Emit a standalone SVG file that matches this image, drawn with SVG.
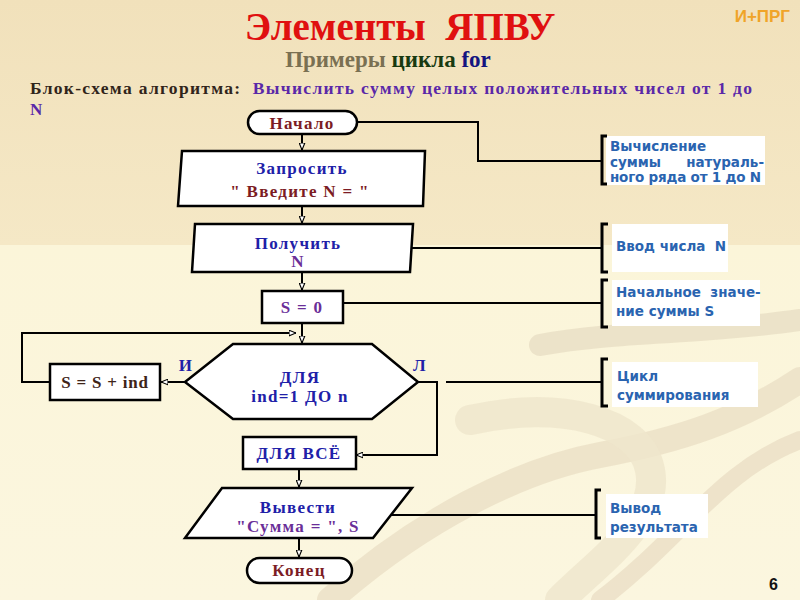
<svg xmlns="http://www.w3.org/2000/svg" width="800" height="600" viewBox="0 0 800 600">
<defs>
<linearGradient id="bgTop" x1="0" y1="0" x2="0" y2="1">
<stop offset="0" stop-color="#f1e1bb"/>
<stop offset="1" stop-color="#f5e8c6"/>
</linearGradient>
<linearGradient id="bgBot" x1="0" y1="0" x2="0" y2="1">
<stop offset="0" stop-color="#fbf5d9"/>
<stop offset="1" stop-color="#fbf6df"/>
</linearGradient>
<marker id="arr" viewBox="0 0 10 10" refX="10" refY="5" markerWidth="7" markerHeight="7" orient="auto" markerUnits="userSpaceOnUse">
<path d="M0,1 L10,5 L0,9 Z" fill="#fff" stroke="#000" stroke-width="1.6"/>
</marker>
<style>
.shape{fill:#fff;stroke:#000;stroke-width:2.5}
.conn{fill:none;stroke:#000;stroke-width:2}
.ann{fill:none;stroke:#000;stroke-width:2}
.brk{fill:none;stroke:#000;stroke-width:3}
.note{fill:#fff}
.s{font-family:"Liberation Serif","DejaVu Serif",serif;font-weight:bold}
.n{font-size:17px;letter-spacing:1.3px}
.t{font-family:"DejaVu Sans","Liberation Sans",sans-serif;font-weight:bold;font-size:13.5px;fill:#2a64b0;white-space:pre}
.blue{fill:#2020a8}
.purple{fill:#6a2e98}
.dred{fill:#7c1c24}
.brown{fill:#3e2418}
</style>
</defs>
<rect x="0" y="0" width="800" height="245" fill="url(#bgTop)"/>
<rect x="0" y="245" width="800" height="355" fill="url(#bgBot)"/>
<g id="swooshes" fill="none" stroke-linecap="round">
<path d="M330,600 C420,520 520,470 600,455 C680,440 740,420 800,380" stroke="#ebe0c6" stroke-width="26" opacity="0.8"/>
<path d="M540,345 C620,330 700,335 800,320" stroke="#e9dec4" stroke-width="22" opacity="0.8"/>
<path d="M470,420 C560,400 640,420 650,470 C660,520 600,560 560,600" stroke="#efe6cc" stroke-width="30" opacity="0.8"/>
<path d="M600,600 C680,540 720,470 800,440" stroke="#e8dcc2" stroke-width="18" opacity="0.7"/>
</g>

<text x="400" y="40" text-anchor="middle" class="s" font-size="39" fill="#e01010" style="white-space:pre">Элементы  ЯПВУ</text>
<text x="388" y="67" text-anchor="middle" class="s" font-size="23"><tspan fill="#7a7052">Примеры </tspan><tspan fill="#183a10">цикла </tspan><tspan fill="#141480">for</tspan></text>
<text x="790" y="22" text-anchor="end" font-family="Liberation Sans,Arial,sans-serif" font-weight="bold" font-size="17" fill="#f0a428">И+ПРГ</text>
<text x="30" y="94" class="s" font-size="17.5" textLength="722" lengthAdjust="spacing" style="white-space:pre"><tspan fill="#30241a">Блок-схема алгоритма:  </tspan><tspan fill="#5a28a8">Вычислить сумму целых положительных чисел от 1 до</tspan></text>
<text x="30" y="115" class="s" font-size="17" fill="#5a28a8">N</text>

<g id="connectors">
<line class="conn" x1="302" y1="134" x2="302" y2="150" marker-end="url(#arr)"/>
<line class="conn" x1="302" y1="206" x2="302" y2="223" marker-end="url(#arr)"/>
<line class="conn" x1="302" y1="272" x2="302" y2="290" marker-end="url(#arr)"/>
<line class="conn" x1="302" y1="323" x2="302" y2="343" marker-end="url(#arr)"/>
<line class="conn" x1="185" y1="382" x2="161" y2="382" marker-end="url(#arr)"/>
<polyline class="conn" points="50,382 22,382 22,333 296,333" marker-end="url(#arr)"/>
<polyline class="conn" points="418,382 437,382 437,455 356,455" marker-end="url(#arr)"/>
<line class="conn" x1="299" y1="469" x2="299" y2="487" marker-end="url(#arr)"/>
<line class="conn" x1="299" y1="538" x2="299" y2="557" marker-end="url(#arr)"/>
</g>

<g id="annotation-links">
<polyline class="ann" points="357,122 478,122 478,161 601,161"/>
<line class="ann" x1="386" y1="248" x2="601" y2="248"/>
<line class="ann" x1="343" y1="303" x2="601" y2="303"/>
<line class="ann" x1="446" y1="382" x2="601" y2="382"/>
<line class="ann" x1="389" y1="515" x2="595" y2="515"/>
</g>

<g id="start">
<rect class="shape" x="248" y="111" width="109" height="23" rx="11.5"/>
<text x="302" y="129" text-anchor="middle" class="s n dred">Начало</text>
</g>
<g id="ask">
<polygon class="shape" points="182,151 425,151 423,206 178,206"/>
<text x="302" y="174" text-anchor="middle" class="s n blue">Запросить</text>
<text x="300" y="197" text-anchor="middle" class="s n dred">" Введите N = "</text>
</g>
<g id="get">
<polygon class="shape" points="195,224 413,224 410,272 192,272"/>
<text x="298" y="249" text-anchor="middle" class="s n blue">Получить</text>
<text x="298" y="267" text-anchor="middle" class="s n purple">N</text>
</g>
<g id="init">
<rect class="shape" x="262" y="291" width="81" height="32"/>
<text x="302" y="313" text-anchor="middle" class="s n purple">S = 0</text>
</g>
<g id="loop">
<polygon class="shape" points="185,382 233,344 372,344 418,382 372,419 233,419"/>
<text x="300" y="383" text-anchor="middle" class="s n blue">ДЛЯ</text>
<text x="300" y="402" text-anchor="middle" class="s n blue">ind=1 ДО n</text>
<text x="186" y="371" text-anchor="middle" class="s n blue">И</text>
<text x="420" y="371" text-anchor="middle" class="s n blue">Л</text>
</g>
<g id="sum">
<rect class="shape" x="50" y="364" width="110" height="36"/>
<text x="105" y="388" text-anchor="middle" class="s brown" font-size="17" letter-spacing="0.8">S = S + ind</text>
</g>
<g id="loopend">
<rect class="shape" x="243" y="437" width="113" height="32"/>
<text x="299" y="459" text-anchor="middle" class="s n blue">ДЛЯ ВСЁ</text>
</g>
<g id="output">
<polygon class="shape" points="222,488 412,488 373,538 185,538"/>
<text x="298" y="513" text-anchor="middle" class="s n blue">Вывести</text>
<text x="298" y="532" text-anchor="middle" class="s n purple">"Сумма = ", S</text>
</g>
<g id="end">
<rect class="shape" x="247" y="558" width="105" height="25" rx="12.5"/>
<text x="299" y="576" text-anchor="middle" class="s n dred">Конец</text>
</g>

<g id="note1">
<rect class="note" x="606" y="136" width="159" height="49"/>
<path class="brk" d="M607,136 H602 V184 H607"/>
<text class="t" x="610" y="151">Вычисление</text>
<text class="t" x="610" y="167">суммы</text>
<text class="t" x="764" y="167" text-anchor="end">натураль-</text>
<text class="t" x="610" y="182" textLength="151" lengthAdjust="spacing">ного ряда от 1 до N</text>
</g>
<g id="note2">
<rect class="note" x="612" y="224" width="116" height="48"/>
<path class="brk" d="M608,224 H602 V272 H608"/>
<text class="t" x="616" y="251">Ввод числа  N</text>
</g>
<g id="note3">
<rect class="note" x="612" y="280" width="148" height="46"/>
<path class="brk" d="M608,280 H602 V327 H608"/>
<text class="t" x="616" y="297">Начальное  значе-</text>
<text class="t" x="616" y="316">ние суммы S</text>
</g>
<g id="note4">
<rect class="note" x="612" y="362" width="146" height="45"/>
<path class="brk" d="M608,359 H602 V406 H608"/>
<text class="t" x="617" y="381">Цикл</text>
<text class="t" x="617" y="400">суммирования</text>
</g>
<g id="note5">
<rect class="note" x="606" y="494" width="102" height="44"/>
<path class="brk" d="M601,490 H596 V538 H601"/>
<text class="t" x="610" y="513">Вывод</text>
<text class="t" x="610" y="532">результата</text>
</g>
<text x="778" y="590" text-anchor="end" font-family="Liberation Sans,Arial,sans-serif" font-weight="bold" font-size="16" fill="#111">6</text>
</svg>
